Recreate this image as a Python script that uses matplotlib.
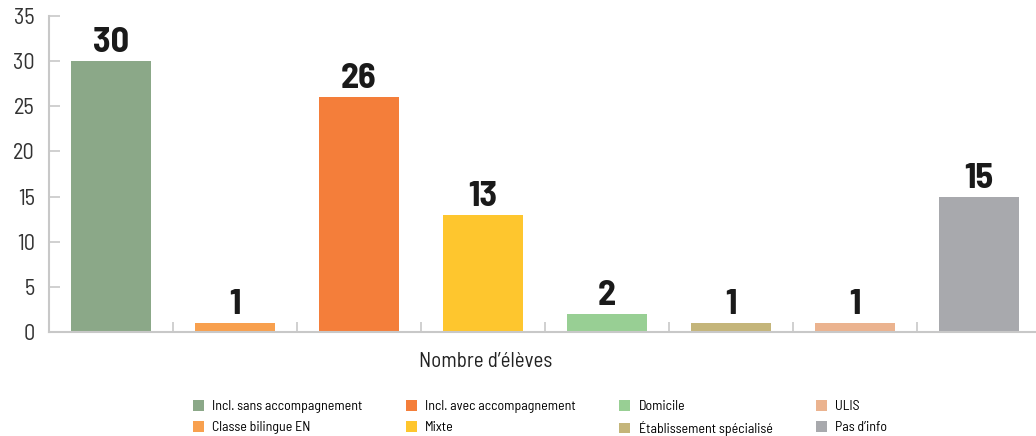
import matplotlib.pyplot as plt
import numpy as np

categories = ['Incl. sans accompagnement', 'Classe bilingue EN', 'Incl. avec accompagnement', 'Mixte',
              'Domicile', 'Établissement spécialisé', 'ULIS', "Pas d\u2019info"]
values = [30, 1, 26, 13, 2, 1, 1, 15]
colors = ['#8BA888', '#F8A04E', '#F47E3A', '#FEC62E', '#98CF94', '#C4B57A', '#EBB38F', '#A8A9AD']

plt.rcParams['font.family'] = ['Barlow Semi Condensed', 'Archivo Narrow', 'DejaVu Sans']

fig = plt.figure(figsize=(10.36, 4.36), dpi=100)
ax = fig.add_axes([49 / 1036, 1 - 332 / 436, 1 - 49 / 1036, (332 - 16) / 436])

x = np.arange(len(values))
bars = ax.bar(x, values, width=0.645, color=colors, label=categories)
for xi, v in zip(x, values):
    ax.text(xi, v + 0.2, str(v), ha='center', va='bottom', fontsize=26, fontweight='bold', color='#1a1a1a')

ax.set_xlim(-0.5, -0.5 + (1036 - 49) / 124)
ax.set_ylim(0, 35)
ax.set_yticks(range(0, 36, 5))
ax.set_xticks([])
ax.set_xticks(np.arange(0.5, 7.5, 1), minor=True)
ax.tick_params(axis='x', which='minor', direction='in', length=7, color='#c8c8c8', width=1.2)
ax.tick_params(axis='y', direction='in', length=8, color='#c8c8c8', width=1.2,
               labelsize=16, labelcolor='#333333', pad=10)
for s in ['top', 'right']:
    ax.spines[s].set_visible(False)
for s in ['left', 'bottom']:
    ax.spines[s].set_color('#c8c8c8')
    ax.spines[s].set_linewidth(1.5)

fig.text(486 / 1036, 1 - 361 / 436, "Nombre d\u2019élèves", ha='center', va='center', fontsize=15, color='#222222')

fig.legend(handles=bars, labels=categories, ncol=4, loc='center', bbox_to_anchor=(540 / 1036, 1 - 418 / 436),
           frameon=False, fontsize=10, handlelength=0.8, handleheight=0.8, columnspacing=3.1,
           handletextpad=0.6, labelspacing=0.55)

plt.savefig('out.png', dpi=100)
